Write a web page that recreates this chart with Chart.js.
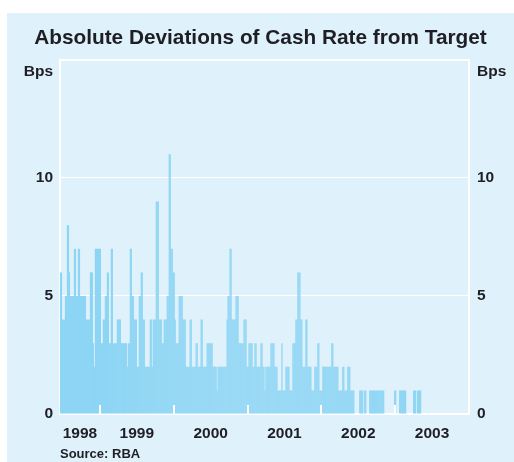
<!DOCTYPE html>
<html lang="en">
<head>
    <meta charset="UTF-8">
    <title>Absolute Deviations of Cash Rate from Target</title>
    <script src="https://cdn.jsdelivr.net/npm/chart.js"></script>
    <style>
        body { margin: 0; background: #fff; }
        canvas { display: block; }
    </style>
</head>
<body>
    <canvas id="myChart" width="514" height="462"></canvas>

<script>
    // absolute deviation of cash rate from target (bps), one value per ~5 day period
    var periodsPerYear = 74;

    // 1998 starts at period 34 of the year
    var dev1998 = [
        6,6,4,4,4,5,5,8,8,6, 5,5,5,5,7,7,5,5,7,7,
        5,5,5,5,5,5,4,4,4,4, 6,6,6,3,2,7,7,7,7,7
    ];
    var dev1999 = [
        7,3,3,4,4,5,5,6,6,3, 3,7,7,3,3,3,3,4,4,4,
        4,3,3,3,3,3,3,2,3,3, 7,7,5,5,4,4,4,2,2,5,
        5,6,6,4,4,2,2,2,2,2, 4,4,2,4,4,4,9,9,9,4,
        4,4,3,3,4,4,4,5,5,11, 11,7,7,6
    ];
    var dev2000 = [
        6,4,3,3,3,5, 5,5,5,4,4,4,2,2,2,2,
        4,4,2,2,2,2,3,3,2,2, 2,4,4,2,2,2,2,3,3,3,
        3,3,3,2,2,2,2,1,2,2, 2,2,2,2,2,2,2,4,5,5,
        7,7,4,4,4,4,5,5,5,3, 3,3,3,3,4,4,4,2
    ];
    var dev2001 = [
        2,3, 3,3,3,2,2,3,3,2,2,2,
        2,3,3,2,2,1,2,2,2,2, 2,3,3,3,3,2,2,2,1,1,
        1,1,3,1,1,1,2,2,2,2, 1,1,1,3,3,3,4,4,6,6,
        6,4,4,2,2,2,4,4,2,2, 2,2,1,1,1,2,2,2,3,3, 1,1
    ];
    var dev2002 = [
        1,2,2,2,2,2,2,2, 2,2,3,3,2,2,2,2,2,1,
        1,1,1,2,2,1,1,1,2,2, 2,1,1,1,1,0,0,0,0,0,
        1,1,1,1,0,1,1,0,0,0, 1,1,1,1,1,1,1,1,1,1,
        1,1,1,1,1,0,0,0,0,0, 0,0,0,0,0,1
    ];
    var dev2003 = [
        1,0,0,0, 1,1,1,1,1,1,1,0,0,0,
        0,0,0,0,1,1,1,0,1,1, 1,1
    ];

    var years = [1998, 1999, 2000, 2001, 2002, 2003];
    var yearValues = [dev1998, dev1999, dev2000, dev2001, dev2002, dev2003];
    var firstPeriod = [34, 0, 0, 0, 0, 0];

    var yearLabels = ['1998', '1999', '2000', '2001', '2002', '2003'];
    var yTicks = [0, 5, 10];

    var xMin = 1998 + 34 / periodsPerYear;
    var xMax = 2004;

    var points = [];
    years.forEach(function (ano, k) {
        yearValues[k].forEach(function (v, i) {
            points.push({ x: ano + (firstPeriod[k] + i + 0.5) / periodsPerYear, y: v });
        });
    });

    var panelColor = '#dff1fa';
    var barColor = '#8dd5f4';
    var textColor = '#1e1e24';
    var fonte = 'Liberation Sans, Arial, sans-serif';

    // light blue panel behind everything
    const painel = {
        id: 'painel',
        beforeDraw(chart) {
            const ctx = chart.ctx;
            ctx.save();
            ctx.fillStyle = panelColor;
            ctx.fillRect(7, 13, chart.width - 7, chart.height - 13);
            ctx.restore();
        }
    };

    // small white year marks rising from the axis
    const marcasAno = {
        id: 'marcasAno',
        afterDraw(chart) {
            const ctx = chart.ctx;
            const x = chart.scales.x;
            const bottom = chart.chartArea.bottom;
            ctx.save();
            ctx.strokeStyle = '#fff';
            ctx.lineWidth = 2;
            for (let ano = 1999; ano <= 2003; ano++) {
                const px = Math.round(x.getPixelForValue(ano));
                ctx.beginPath();
                ctx.moveTo(px, bottom);
                ctx.lineTo(px, bottom - 9);
                ctx.stroke();
            }
            ctx.restore();
        }
    };

    function yAxis(position, width, padding, drawArea) {
        return {
            type: 'linear',
            position: position,
            min: 0,
            max: 15,
            afterBuildTicks(scale) {
                scale.ticks = yTicks.concat([14.5, 15]).map(v => ({ value: v }));
            },
            afterFit(scale) {
                scale.width = width;
            },
            ticks: {
                padding: padding,
                color: textColor,
                font: { family: fonte, size: 15.5, weight: 'bold' },
                callback: function (v) {
                    if (v === 14.5) return 'Bps';
                    if (v === 15) return '';
                    return v;
                }
            },
            grid: {
                drawOnChartArea: drawArea,
                drawTicks: false,
                color: ctx => (ctx.tick && ctx.tick.value === 14.5) ? 'rgba(0,0,0,0)' : '#fff',
                lineWidth: ctx => (ctx.tick && ctx.tick.value === 15) ? 2 : 1
            },
            border: { color: '#fff', width: 2 }
        };
    }

    const config = {
        type: 'bar',
        data: {
            datasets: [{
                data: points,
                backgroundColor: barColor,
                borderWidth: 0,
                barPercentage: 1.2,
                categoryPercentage: 1,
                grouped: false
            }]
        },
        options: {
            responsive: false,
            animation: false,
            devicePixelRatio: 1,
            layout: { padding: { left: 7, right: 0, top: 0, bottom: 0 } },
            plugins: {
                legend: { display: false },
                tooltip: { enabled: false },
                title: {
                    display: true,
                    text: 'Absolute Deviations of Cash Rate from Target',
                    color: textColor,
                    font: { family: fonte, size: 20.8, weight: 'bold' },
                    padding: { top: 25.5, bottom: 9.5 }
                },
                subtitle: {
                    display: true,
                    text: 'Source: RBA',
                    position: 'bottom',
                    align: 'start',
                    fullSize: false,
                    color: textColor,
                    font: { family: fonte, size: 13, weight: 'bold' },
                    padding: 0
                }
            },
            scales: {
                x: {
                    type: 'linear',
                    min: xMin,
                    max: xMax,
                    offset: false,
                    z: 1,
                    afterBuildTicks(scale) {
                        scale.ticks = yearLabels.map(function (l) {
                            var start = Math.max(Number(l), xMin);
                            return { value: (start + Number(l) + 1) / 2 };
                        });
                    },
                    afterFit(scale) {
                        scale.height = 32.4;
                    },
                    ticks: {
                        padding: 10,
                        color: textColor,
                        font: { family: fonte, size: 15.5, weight: 'bold' },
                        callback: function (v) { return String(Math.floor(v)); }
                    },
                    grid: { display: false, drawTicks: false },
                    border: { color: '#fff', width: 2 }
                },
                y: yAxis('left', 53, 7, true),
                y2: yAxis('right', 45, 8, false)
            }
        },
        plugins: [painel, marcasAno]
    };

    const myChart = new Chart(document.getElementById('myChart'), config);
</script>
</body>
</html>
